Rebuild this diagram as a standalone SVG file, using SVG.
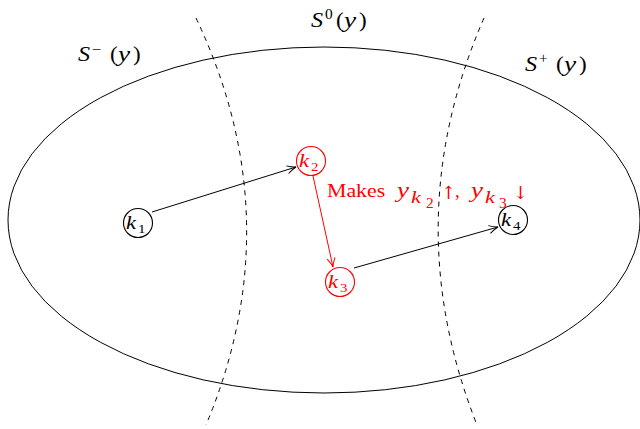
<svg xmlns="http://www.w3.org/2000/svg" width="640" height="429" viewBox="0 0 640 429" font-family="'Liberation Serif', 'DejaVu Serif', serif">
<defs>
<style>
.t{font-family:"Liberation Serif","DejaVu Serif",serif}
.i{font-style:italic}
.arr{font-family:"DejaVu Serif",serif}
.node{fill:#fff;stroke-width:1.1}
.red{fill:#f00}
</style>
<marker id="ab" markerWidth="12" markerHeight="10" refX="10" refY="5" orient="auto" markerUnits="userSpaceOnUse"><path d="M1,1 Q6,4 10,5 Q6,6 1,9" fill="none" stroke="#000" stroke-width="1"/></marker>
<marker id="ar" markerWidth="12" markerHeight="10" refX="10" refY="5" orient="auto" markerUnits="userSpaceOnUse"><path d="M1,1 Q6,4 10,5 Q6,6 1,9" fill="none" stroke="#f00" stroke-width="1"/></marker>
</defs>
<rect width="640" height="429" fill="#fff"/>
<g id="regions" fill="none" stroke="#000">
<ellipse cx="324" cy="220" rx="316" ry="173" stroke-width="1"/>
<path d="M196,18 Q292,220 206,425" stroke-dasharray="5,5" stroke-width="1"/>
<path d="M484,18 Q396,220 477,425" stroke-dasharray="5,5" stroke-width="1"/>
</g>
<g id="region-labels" font-size="21">
<text class="t i" transform="translate(78,61) scale(1.15,1)">S</text>
<text class="t" transform="translate(92,54) scale(1.2,1)" font-size="14">−</text>
<text class="t" transform="translate(110,61) scale(1.1,1)">(</text>
<text class="t i" transform="translate(118,61) scale(1.3,1)">y</text>
<text class="t" transform="translate(133,61) scale(1.1,1)">)</text>

<text class="t i" transform="translate(311,27) scale(1.15,1)">S</text>
<text class="t" transform="translate(325,19) scale(1.1,1)" font-size="14">0</text>
<text class="t" transform="translate(336,27) scale(1.1,1)">(</text>
<text class="t i" transform="translate(344,27) scale(1.3,1)">y</text>
<text class="t" transform="translate(359,27) scale(1.1,1)">)</text>

<text class="t i" transform="translate(525,71) scale(1.15,1)">S</text>
<text class="t" transform="translate(539,63) scale(1.1,1)" font-size="14">+</text>
<text class="t" transform="translate(556,71) scale(1.1,1)">(</text>
<text class="t i" transform="translate(564,71) scale(1.3,1)">y</text>
<text class="t" transform="translate(579,71) scale(1.1,1)">)</text>
</g>
<g id="connectors" fill="none">
<line x1="152" y1="212" x2="296" y2="167" stroke="#000" marker-end="url(#ab)"/>
<line x1="313" y1="176" x2="333" y2="267" stroke="#f00" marker-end="url(#ar)"/>
<line x1="354" y1="268" x2="498" y2="227" stroke="#000" marker-end="url(#ab)"/>
</g>
<g id="annotation" class="red">
<text class="t" transform="translate(327,197) scale(1.15,1)" font-size="19">Makes</text>
<text class="t i" transform="translate(397,197) scale(1.35,1)" font-size="20">y</text>
<text class="t i" transform="translate(411,203) scale(1.4,1)" font-size="16">k</text>
<text class="t" transform="translate(426,208) scale(1.1,1)" font-size="14">2</text>
<text class="arr" transform="translate(441,199)" font-size="18">↑</text>
<text class="t" transform="translate(455,197)" font-size="19">,</text>
<text class="t i" transform="translate(471,197) scale(1.35,1)" font-size="20">y</text>
<text class="t i" transform="translate(485,203) scale(1.4,1)" font-size="16">k</text>
<text class="t" transform="translate(499,208) scale(1.1,1)" font-size="14">3</text>
<text class="arr" transform="translate(513,199)" font-size="18">↓</text>
</g>
<g id="k1"><circle cx="138" cy="223" r="14.5" class="node" stroke="#000"/><text class="t i" transform="translate(126,229) scale(1.25,1)" font-size="18">k</text><text class="t" transform="translate(138,233) scale(1.15,1)" font-size="13">1</text></g>
<g id="k2"><circle cx="311" cy="161" r="14.5" class="node" stroke="#f00"/><text class="t i red" transform="translate(299,167) scale(1.25,1)" font-size="18">k</text><text class="t red" transform="translate(311,171) scale(1.15,1)" font-size="13">2</text></g>
<g id="k3"><circle cx="340" cy="282" r="14.5" class="node" stroke="#f00"/><text class="t i red" transform="translate(328,288) scale(1.25,1)" font-size="18">k</text><text class="t red" transform="translate(340,292) scale(1.15,1)" font-size="13">3</text></g>
<g id="k4"><circle cx="513" cy="220" r="14.5" class="node" stroke="#000"/><text class="t i" transform="translate(501,226) scale(1.25,1)" font-size="18">k</text><text class="t" transform="translate(513,230) scale(1.15,1)" font-size="13">4</text></g>
</svg>
